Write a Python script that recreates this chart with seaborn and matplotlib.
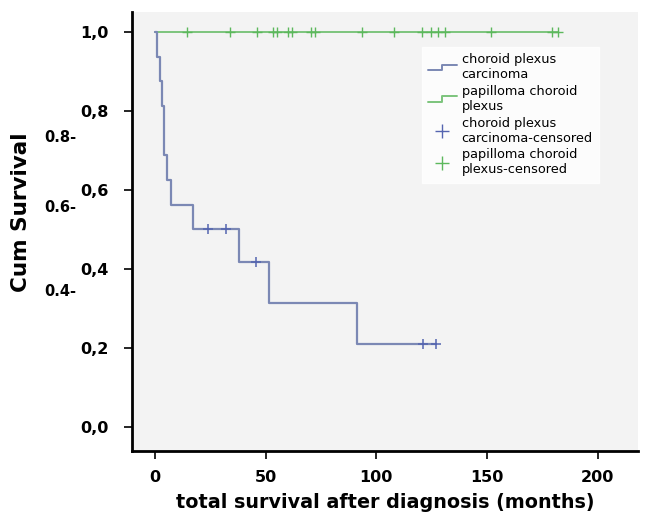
import numpy as np
import pandas as pd
import matplotlib
matplotlib.use("Agg")
import matplotlib.pyplot as plt
import seaborn as sns
from matplotlib.lines import Line2D
from matplotlib.legend_handler import HandlerBase

# ---- data ----
carc_t = [0, 1, 2.3, 3.2, 4.1, 5.4, 7.2, 17.2, 38, 51.5, 91.3, 126.8]
carc_s = [1.0, 0.9375, 0.875, 0.8125, 0.6875, 0.625, 0.5625, 0.5, 0.417, 0.3125, 0.208, 0.208]
carc_cens_t = [23.8, 32, 45.5, 121, 126.8]
carc_cens_s = [0.5, 0.5, 0.417, 0.208, 0.208]

pap_t = [0, 182.2]
pap_s = [1.0, 1.0]
pap_cens_t = [14.3, 33.9, 45.9, 53.1, 55.1, 60.1, 62.1, 70.5, 72.3, 93.5,
              108, 120.6, 124.7, 127.9, 131, 151.7, 179.2, 182.2]
pap_cens_s = [1.0] * len(pap_cens_t)

labels = ["choroid plexus\ncarcinoma", "papilloma choroid\nplexus",
          "choroid plexus\ncarcinoma-censored", "papilloma choroid\nplexus-censored"]
x_ticks = [0, 50, 100, 150, 200]
y_ticks = [0.0, 0.2, 0.4, 0.6, 0.8, 1.0]
y_ticklabels = ["0,0", "0,2", "0,4", "0,6", "0,8", "1,0"]

carc_color = "#7b88b4"
pap_color = "#7cc47c"
carc_cens_color = "#5565b0"
pap_cens_color = "#5cb85c"

sns.set_style("white")
plt.rcParams["font.family"] = ["DejaVu Sans"]
plt.rcParams["text.color"] = "black"
plt.rcParams["xtick.color"] = "black"
plt.rcParams["ytick.color"] = "black"
plt.rcParams["axes.labelcolor"] = "black"

fig = plt.figure(figsize=(6.46, 5.22), dpi=100)
ax = fig.add_axes([0.2043, 0.1366, 0.7833, 0.841])
ax.set_facecolor("#f3f3f3")

df_c = pd.DataFrame({"t": carc_t, "s": carc_s})
df_p = pd.DataFrame({"t": pap_t, "s": pap_s})
sns.lineplot(data=df_p, x="t", y="s", drawstyle="steps-post", color=pap_color,
             lw=1.4, ax=ax, estimator=None, sort=False)
sns.lineplot(data=df_c, x="t", y="s", drawstyle="steps-post", color=carc_color,
             lw=1.6, ax=ax, estimator=None, sort=False)
sns.scatterplot(x=pap_cens_t, y=pap_cens_s, marker="+", s=50, color=pap_cens_color,
                linewidth=1.0, ax=ax, zorder=3)
sns.scatterplot(x=carc_cens_t, y=carc_cens_s, marker="+", s=55, color=carc_cens_color,
                linewidth=1.1, ax=ax, zorder=3)

ax.set_xlim(-10.4, 218.2)
ax.set_ylim(-0.061, 1.051)
ax.set_xticks(x_ticks)
ax.set_xticklabels([str(v) for v in x_ticks])
ax.set_yticks(y_ticks)
ax.set_yticklabels(y_ticklabels)
for lab in ax.get_xticklabels() + ax.get_yticklabels():
    lab.set_fontweight("bold")
    lab.set_fontsize(11.5)
ax.tick_params(axis="both", direction="out", length=6, width=1.2, color="black",
               left=True, bottom=True)
ax.tick_params(axis="y", pad=11)
ax.tick_params(axis="x", pad=8)
for sp in ["top", "right"]:
    ax.spines[sp].set_visible(False)
for sp in ["left", "bottom"]:
    ax.spines[sp].set_color("black")
    ax.spines[sp].set_linewidth(2)

ax.set_xlabel("total survival after diagnosis (months)", fontsize=13.8,
              fontweight="bold", labelpad=6)
ax.set_ylabel("Cum Survival", fontsize=15.5, fontweight="bold")
ax.yaxis.set_label_coords(-0.1996, 0.544)


class StepHandler(HandlerBase):
    def create_artists(self, legend, orig_handle, xdescent, ydescent, width,
                       height, fontsize, trans):
        xs = np.array([0, 0.5, 0.5, 1.0]) * width - xdescent
        ys = np.array([0.25, 0.25, 0.85, 0.85]) * height - ydescent
        ln = Line2D(xs, ys, color=orig_handle.get_color(), lw=1.4)
        ln.set_transform(trans)
        return [ln]


h1 = Line2D([], [], color=carc_color)
h2 = Line2D([], [], color=pap_color)
h3 = Line2D([], [], color=carc_cens_color, marker="+", ls="none", markersize=10)
h4 = Line2D([], [], color=pap_cens_color, marker="+", ls="none", markersize=10)
leg = ax.legend([h1, h2, h3, h4], labels, loc="upper left",
                bbox_to_anchor=(0.5725, 0.92), frameon=True, fontsize=9.3,
                handler_map={h1: StepHandler(), h2: StepHandler()},
                handlelength=2.2, handletextpad=0.4, labelspacing=0.28,
                borderpad=0.5, borderaxespad=0)
leg.get_frame().set_facecolor("white")
leg.get_frame().set_edgecolor("white")
leg.get_frame().set_boxstyle("square", pad=0)

# stray labels present in the reference image
for txt, yp in [("0.8-", 138), ("0.6-", 207), ("0.4-", 291)]:
    fig.text(44 / 646, 1 - yp / 522, txt, fontsize=10.5, fontweight="bold",
             va="center", ha="left")

fig.savefig("out.png", dpi=100)
